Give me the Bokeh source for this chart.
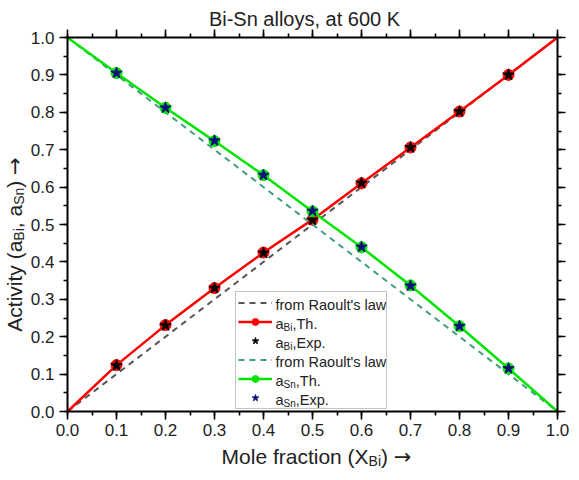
import math
from bokeh.plotting import figure
from bokeh.models import (Range1d, LinearAxis, SingleIntervalTicker, NumeralTickFormatter,
                          CustomJSTickFormatter, Legend, LegendItem, Label)
from bokeh.embed import file_html
from bokeh.resources import INLINE

# ---------------- data ----------------
x_th = [0.0, 0.1, 0.2, 0.3, 0.4, 0.5, 0.6, 0.7, 0.8, 0.9, 1.0]
bi_th = [0.0, 0.124, 0.231, 0.330, 0.425, 0.513, 0.610, 0.706, 0.802, 0.900, 1.0]
sn_th = [1.0, 0.905, 0.812, 0.723, 0.632, 0.535, 0.439, 0.337, 0.228, 0.115, 0.0]

x_exp = [0.1, 0.2, 0.3, 0.4, 0.5, 0.6, 0.7, 0.8, 0.9]
bi_exp = [0.123, 0.230, 0.330, 0.424, 0.512, 0.611, 0.706, 0.802, 0.900]
sn_exp = [0.905, 0.812, 0.724, 0.632, 0.536, 0.440, 0.336, 0.228, 0.115]

x_raoult = [0.0, 1.0]
bi_raoult = [0.0, 1.0]
sn_raoult = [1.0, 0.0]

title_text = "Bi-Sn alloys, at 600 K"
# (text, kind): "n" normal, "sub" subscript, "arr" arrow glyph
x_label_parts = [("Mole fraction (X", "n"), ("Bi", "sub"), (") ", "n"), ("\u2192", "arr")]
y_label_parts = [("Activity (a", "n"), ("Bi", "sub"), (", a", "n"), ("Sn", "sub"), (") ", "n"),
                 ("\u2192", "arr")]
legend_rows = [
    [("from Raoult's law", "n")],
    [("a", "n"), ("Bi", "sub"), (",Th.", "n")],
    [("a", "n"), ("Bi", "sub"), (",Exp.", "n")],
    [("from Raoult's law", "n")],
    [("a", "n"), ("Sn", "sub"), (",Th.", "n")],
    [("a", "n"), ("Sn", "sub"), (",Exp.", "n")],
]

# ---------------- styles / layout ----------------
FONT = "Liberation Sans"
ARROW_FONT = "DejaVu Sans"
TXT = "#222222"
RED = "#ff0000"
GREEN = "#00e400"
GRAY_DASH = "#555555"
GREEN_DASH = "#3f9f7f"
NAVY = "#10107a"

FIG_W, FIG_H = 571, 472
# axis box inside the canvas (pixels from the canvas top-left)
BOX_L, BOX_R, BOX_T, BOX_B = 67, 557, 37, 411
BASE_FIX = 4   # labels render a bit below the requested alphabetic baseline

# Arial / Liberation Sans advance widths (per 1000 em); arrow from DejaVu Sans
W = {' ': 278, 'A': 667, 'B': 667, 'K': 667, 'M': 833, 'R': 722, 'S': 667, 'T': 611, 'X': 667,
     'E': 667, 'a': 556, 'c': 500, 'e': 556, 'f': 278, 'h': 556, 'i': 222, 'l': 222, 'm': 833,
     'n': 556, 'o': 556, 'p': 556, 'r': 333, 's': 500, 't': 278, 'u': 556, 'v': 500, 'w': 722,
     'x': 500, 'y': 500, '(': 333, ')': 333, ',': 278, '.': 278, '-': 333, "'": 191,
     '\u2192': 838}


def text_width(s, size):
    return sum(W.get(ch, 556) for ch in s) * size / 1000.0


sx = (BOX_R - BOX_L)  # pixels per unit x
sy = (BOX_B - BOX_T)  # pixels per unit y
x_range = Range1d(-BOX_L / sx, 1 + (FIG_W - BOX_R) / sx)
y_range = Range1d(-(FIG_H - BOX_B) / sy, 1 + BOX_T / sy)

p = figure(width=FIG_W, height=FIG_H, x_range=x_range, y_range=y_range,
           output_backend="svg", toolbar_location=None,
           x_axis_location=None, y_axis_location=None,
           min_border=0, min_border_left=0, min_border_right=0,
           min_border_top=0, min_border_bottom=0)
p.background_fill_color = "white"
p.border_fill_color = "white"
p.outline_line_color = None
p.xgrid.visible = False
p.ygrid.visible = False


def make_axis(loc, show_labels):
    ax = LinearAxis(fixed_location=loc, bounds=(0, 1),
                    ticker=SingleIntervalTicker(interval=0.1, num_minor_ticks=2))
    ax.axis_line_width = 2
    ax.axis_line_color = "black"
    ax.major_tick_line_width = 1.6
    ax.minor_tick_line_width = 1.6
    ax.major_tick_in = 0
    ax.major_tick_out = 8
    ax.minor_tick_in = 0
    ax.minor_tick_out = 4
    ax.major_label_text_font = FONT
    ax.major_label_text_color = TXT
    ax.major_label_text_font_size = "17px"
    ax.major_label_standoff = 5
    if show_labels:
        ax.formatter = NumeralTickFormatter(format="0.0")
    else:
        ax.formatter = CustomJSTickFormatter(code="return ''")
    return ax


ax_b = make_axis(0, True)
ax_b.major_label_standoff = 4
p.add_layout(ax_b, "below")
p.add_layout(make_axis(0, True), "left")
p.add_layout(make_axis(1, False), "above")
p.add_layout(make_axis(1, False), "right")

# ---------------- glyphs ----------------
r_rao_bi = p.line(x_raoult, bi_raoult, line_color=GRAY_DASH, line_width=2, line_dash="6 5")
r_bi_line = p.line(x_th, bi_th, line_color=RED, line_width=2.5)
r_bi_circ = p.scatter(x_exp, bi_th[1:-1], marker="circle", size=11, fill_color=RED, line_color=RED)
r_bi_exp = p.scatter(x_exp, bi_exp, marker="star", size=12, fill_color="black", line_color="black")

r_rao_sn = p.line(x_raoult, sn_raoult, line_color=GREEN_DASH, line_width=2, line_dash="6 5")
r_sn_line = p.line(x_th, sn_th, line_color=GREEN, line_width=2.5)
r_sn_circ = p.scatter(x_exp, sn_th[1:-1], marker="circle", size=11, fill_color=GREEN, line_color=GREEN)
r_sn_exp = p.scatter(x_exp, sn_exp, marker="star", size=12, fill_color=NAVY, line_color=NAVY)

# ---------------- legend (glyphs by Bokeh, texts by labels) ----------------
LEG_LEFT, LEG_BOTTOM = 235, 409          # canvas pixels (from top-left)
PAD, SPACING, ROW_H, GLYPH_W, STANDOFF, LABEL_W = 2, 2, 17, 34, 4, 108
items = [
    LegendItem(label=" ", renderers=[r_rao_bi]),
    LegendItem(label=" ", renderers=[r_bi_line, r_bi_circ]),
    LegendItem(label=" ", renderers=[r_bi_exp]),
    LegendItem(label=" ", renderers=[r_rao_sn]),
    LegendItem(label=" ", renderers=[r_sn_line, r_sn_circ]),
    LegendItem(label=" ", renderers=[r_sn_exp]),
]
legend = Legend(items=items, location=(LEG_LEFT, FIG_H - LEG_BOTTOM), padding=PAD, spacing=SPACING,
                glyph_width=GLYPH_W, glyph_height=ROW_H, label_height=ROW_H, label_width=LABEL_W,
                label_standoff=STANDOFF, margin=0, label_text_font_size="8px",
                border_line_color="#8a8a8a", border_line_width=1,
                background_fill_color="white", background_fill_alpha=0.0)
p.add_layout(legend, "center")


def add_rich(parts, x0, y0, size, sub_size, sub_drop, angle=0.0):
    """x0, y0 in screen units (frame = whole canvas, y upward); (x0, y0) = baseline start."""
    if angle == 0:
        y0 = y0 + BASE_FIX
    else:
        x0 = x0 - BASE_FIX
    pos = x0 if angle == 0 else y0
    for txt, kind in parts:
        sub = kind == "sub"
        fs = sub_size if sub else size
        font = ARROW_FONT if kind == "arr" else FONT
        if angle == 0:
            lx, ly = pos, (y0 - sub_drop if sub else y0)
        else:
            lx, ly = (x0 + sub_drop if sub else x0), pos
        p.add_layout(Label(x=lx, y=ly, x_units="screen", y_units="screen", text=txt,
                           angle=angle, text_font=font, text_font_size=f"{fs}px",
                           text_color=TXT, text_align="left", text_baseline="alphabetic",
                           level="overlay"))
        pos += text_width(txt, fs)


def rich_width(parts, size, sub_size):
    return sum(text_width(t, sub_size if k == "sub" else size) for t, k in parts)


# legend texts
legend_h = 2 * PAD + len(legend_rows) * ROW_H + (len(legend_rows) - 1) * SPACING
legend_top = (FIG_H - LEG_BOTTOM) + legend_h
text_x = LEG_LEFT + PAD + GLYPH_W + STANDOFF
for i, row in enumerate(legend_rows):
    cy = legend_top - PAD - ROW_H / 2 - i * (ROW_H + SPACING)
    add_rich(row, text_x, cy - 5, 14.5, 10, 3)

# axis titles
AX_FS, AX_SUB = 21, 14
xw = rich_width(x_label_parts, AX_FS, AX_SUB)
add_rich(x_label_parts, 316 - xw / 2, FIG_H - 460, AX_FS, AX_SUB, 4)
yw = rich_width(y_label_parts, AX_FS, AX_SUB)
add_rich(y_label_parts, 18, FIG_H - (244 + yw / 2), AX_FS, AX_SUB, 4, angle=math.pi / 2)

# title
p.add_layout(Label(x=304, y=FIG_H - 22 + BASE_FIX, x_units="screen", y_units="screen",
                   text=title_text, text_font=FONT, text_font_size="20px", text_color=TXT,
                   text_align="center", text_baseline="alphabetic", level="overlay"))

open("out.html", "w").write(file_html(p, INLINE))
